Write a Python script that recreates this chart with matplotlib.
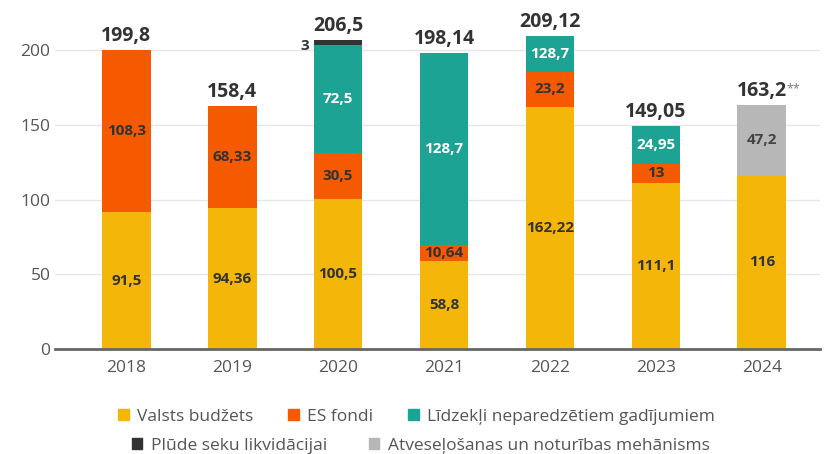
import matplotlib
matplotlib.use("Agg")
import matplotlib.pyplot as plt
from matplotlib.patches import Patch
import numpy as np

plt.rcParams['font.family'] = ['Open Sans', 'DejaVu Sans']

years = ["2018", "2019", "2020", "2021", "2022", "2023", "2024"]
valsts = [91.5, 94.36, 100.5, 58.8, 162.22, 111.1, 116]
es_fondi = [108.3, 68.33, 30.5, 10.64, 23.2, 13, 0]
lidzekli = [0, 0, 72.5, 128.7, 23.7, 24.95, 0]
plude = [0, 0, 3, 0, 0, 0, 0]
atvesel = [0, 0, 0, 0, 0, 0, 47.2]

# labels as printed in the source (2022 teal label differs from its height)
valsts_lbl = ["91,5", "94,36", "100,5", "58,8", "162,22", "111,1", "116"]
es_lbl = ["108,3", "68,33", "30,5", "10,64", "23,2", "13", ""]
lidz_lbl = ["", "", "72,5", "128,7", "128,7", "24,95", ""]
atv_lbl = ["", "", "", "", "", "", "47,2"]
total_lbl = ["199,8", "158,4", "206,5", "198,14", "209,12", "149,05", "163,2"]
total_sfx = ["", "", "", "", "", "", "**"]

names = ["Valsts budžets", "ES fondi", "Līdzekļi neparedzētiem gadījumiem",
         "Plūde seku likvidācijai", "Atveseļošanas un noturības mehānisms"]
colors = ["#F5B60A", "#F55A00", "#1CA393", "#333333", "#B7B7B7"]

fig = plt.figure(figsize=(8.25, 4.54), dpi=100)
ax = fig.add_axes([0.067, 0.231, 0.927, 0.708])

x = np.arange(len(years))
w = 0.46
series = [valsts, es_fondi, lidzekli, plude, atvesel]
labels = [valsts_lbl, es_lbl, lidz_lbl, None, atv_lbl]
txtcol = ["#333333", "#333333", "white", None, "#444444"]
bottom = np.zeros(len(years))
for vals, col, lbl, tc in zip(series, colors, labels, txtcol):
    vals = np.array(vals, dtype=float)
    ax.bar(x, vals, w, bottom=bottom, color=col, zorder=3)
    if lbl is not None:
        for i in range(len(years)):
            if lbl[i]:
                ax.text(x[i], bottom[i] + vals[i] / 2, lbl[i], ha='center', va='center',
                        fontsize=11, fontweight='bold', color=tc, zorder=4)
    bottom += vals

# small label for the flood segment
ax.text(x[2] - w / 2 - 0.04, bottom[2] - 4, "3", ha='right', va='center',
        fontsize=11, fontweight='bold', color="#333333")

for i in range(len(years)):
    t = ax.annotate(total_lbl[i], (x[i], bottom[i]), xytext=(0, 3), textcoords='offset points',
                    ha='center', va='bottom', fontsize=14, fontweight='bold', color="#333333")
    if total_sfx[i]:
        ax.annotate(total_sfx[i], xy=(1, 0.95), xycoords=t, ha='left', va='top',
                    fontsize=9, color="#777777")

ax.set_xlim(-0.67, 6.55)
ax.set_ylim(0, 215)
ax.set_yticks([0, 50, 100, 150, 200])
ax.set_xticks(x)
ax.set_xticklabels(years)
ax.tick_params(length=0, labelsize=12.5, colors="#555555")
ax.tick_params(axis='x', pad=8)
ax.grid(axis='y', color="#E6E6E6", linewidth=1, zorder=0)
for s in ["top", "right", "left"]:
    ax.spines[s].set_visible(False)
ax.spines["bottom"].set_color("#666666")
ax.spines["bottom"].set_linewidth(2)
ax.spines["bottom"].set_zorder(5)

h = [Patch(color=c) for c in colors]
leg_kw = dict(frameon=False, fontsize=12.5, handlelength=0.6, handleheight=0.6,
              handletextpad=0.5, labelcolor="#555555")
fig.legend(h[:3], names[:3], ncol=3, loc='center', bbox_to_anchor=(0.505, 0.082),
           columnspacing=2.0, **leg_kw)
fig.legend(h[3:], names[3:], ncol=2, loc='center', bbox_to_anchor=(0.51, 0.018),
           columnspacing=2.4, **leg_kw)

fig.savefig("out.png", dpi=100)
